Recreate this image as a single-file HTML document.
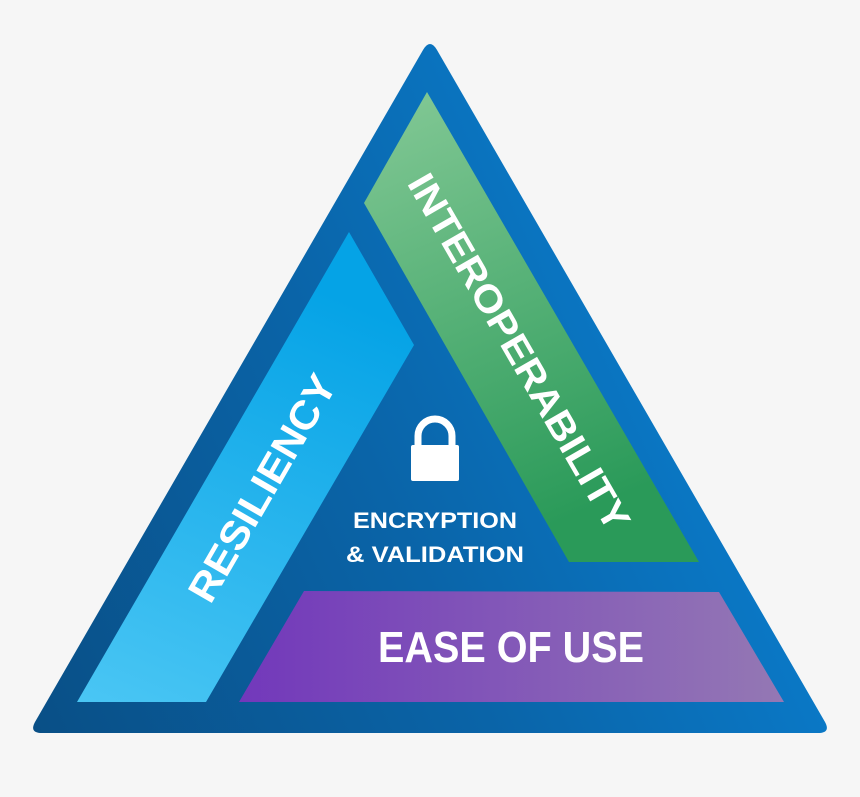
<!DOCTYPE html>
<html><head><meta charset="utf-8"><style>html,body{margin:0;padding:0;background:#f6f6f6;}svg{display:block}</style></head>
<body>
<svg width="860" height="797" viewBox="0 0 860 797" xmlns="http://www.w3.org/2000/svg">
<defs>
<linearGradient id="tri" x1="0" y1="1" x2="1" y2="0.6">
<stop offset="0" stop-color="#094f86"/><stop offset="0.5" stop-color="#0a64a8"/><stop offset="1" stop-color="#0a7fd0"/>
</linearGradient>
<linearGradient id="res" x1="0" y1="1" x2="0.3" y2="0">
<stop offset="0" stop-color="#4ac6f4"/><stop offset="1" stop-color="#05a3e6"/>
</linearGradient>
<linearGradient id="int" x1="0" y1="0" x2="0.3" y2="1">
<stop offset="0" stop-color="#84c996"/><stop offset="1" stop-color="#2a9a59"/>
</linearGradient>
<linearGradient id="eas" x1="0" y1="0" x2="1" y2="0">
<stop offset="0" stop-color="#7238bb"/><stop offset="1" stop-color="#9478b4"/>
</linearGradient>
</defs>
<path d="M423,50 Q430,38 437,50 L825,722 Q831,733 818,733 L42,733 Q29,733 35,722 Z" fill="url(#tri)"/>
<polygon points="349,232 414,345 206,702 77,702" fill="url(#res)"/>
<polygon points="427,92 699,562 569,562 364,203" fill="url(#int)"/>
<polygon points="304,591 719,592 784,702 239,702" fill="url(#eas)"/>
<g fill="#fff" font-family="Liberation Sans, sans-serif" font-weight="bold" text-anchor="middle">
<text x="0" y="0" font-size="40" textLength="255" lengthAdjust="spacingAndGlyphs" transform="translate(262,488) rotate(-60) translate(0,14)">RESILIENCY</text>
<text x="0" y="0" font-size="38" textLength="405" lengthAdjust="spacingAndGlyphs" transform="translate(519,352) rotate(60) translate(0,13)">INTEROPERABILITY</text>
<text x="511" y="662" font-size="44" textLength="266" lengthAdjust="spacingAndGlyphs">EASE OF USE</text>
<text x="435" y="528" font-size="22" font-weight="normal" textLength="164" lengthAdjust="spacingAndGlyphs" style="font-weight:600">ENCRYPTION</text>
<text x="435" y="562" font-size="22" textLength="178" lengthAdjust="spacingAndGlyphs" style="font-weight:600">&amp; VALIDATION</text>
</g>
<path d="M418,447 L418,436 A17,17 0 0 1 452,436 L452,447" fill="none" stroke="#fff" stroke-width="7"/>
<rect x="411" y="445" width="48" height="36" rx="2" fill="#fff"/>
</svg>
</body></html>
